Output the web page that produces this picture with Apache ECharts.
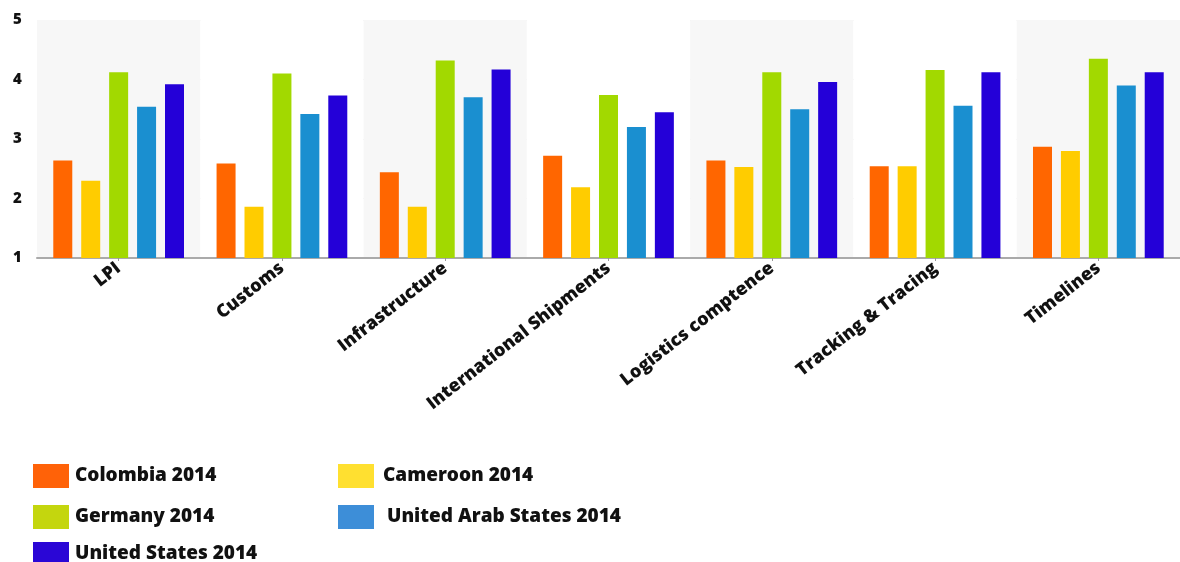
<!DOCTYPE html>
<html><head><meta charset="utf-8">
<script src="https://cdn.jsdelivr.net/npm/echarts@6/dist/echarts.min.js"></script>
<style>html,body{margin:0;padding:0;background:#fff}#c{width:1180px;height:562px}</style>
</head><body><div id="c"></div>
<script>
const categories = ['LPI','Customs','Infrastructure','International Shipments','Logistics comptence','Tracking & Tracing','Timelines'];
const seriesNames = ['Colombia 2014','Cameroon 2014','Germany 2014','United Arab States 2014','United States 2014'];
const colombia = [2.64, 2.59, 2.44, 2.72, 2.64, 2.54, 2.87];
const cameroon = [2.30, 1.86, 1.86, 2.19, 2.53, 2.54, 2.80];
const germany  = [4.12, 4.10, 4.32, 3.74, 4.12, 4.16, 4.35];
const uae      = [3.54, 3.42, 3.70, 3.20, 3.50, 3.56, 3.90];
const us       = [3.92, 3.73, 4.17, 3.45, 3.96, 4.12, 4.12];
const yTicks = [1, 2, 3, 4, 5];

const barColors = ['#ff6600','#ffcc00','#a2d900','#1a8fd0','#2400d8'];
const legendColors = ['#ff6208','#ffe030','#c4d60e','#3d8ed8','#2a06d6'];
const values = [colombia, cameroon, germany, uae, us];

const chart = echarts.init(document.getElementById('c'));
const font = '"Open Sans", "DejaVu Sans", sans-serif';
const legendPos = [[33, 464], [338, 464], [33, 505], [338, 505], [33, 542]];
const legendTextPad = [[0,0,0,1],[0,0,0,4],[0,0,0,1],[0,0,0,8],[0,0,0,1]];
chart.setOption({
  animation: false,
  grid: {left: 37, width: 1157, top: 20, bottom: 304},
  xAxis: {
    type: 'category', data: categories,
    axisLine: {lineStyle: {color: '#aaa', width: 2}},
    axisTick: {show: true, alignWithLabel: true, length: 3, lineStyle: {color: '#999'}},
    axisLabel: {rotate: 38, color: '#111', fontWeight: 800, fontSize: 18, fontFamily: font, margin: 8, interval: 0},
    splitArea: {show: true, areaStyle: {color: ['#f7f7f7', '#ffffff']}}
  },
  yAxis: {
    type: 'value', min: yTicks[0], max: yTicks[yTicks.length-1], interval: 1,
    axisLine: {show: false}, axisTick: {show: false},
    axisLabel: {color: '#111', fontWeight: 800, fontSize: 15, fontFamily: font, margin: 24, align: 'left',
      padding: [4,0,0,0], formatter: v => yTicks.includes(v) ? String(v) : ''},
    splitLine: {lineStyle: {color: '#e8e8e8'}}
  },
  legend: seriesNames.map((n, i) => ({
    left: legendPos[i][0], top: legendPos[i][1], padding: 0,
    itemWidth: 36, itemHeight: 24, icon: 'rect',
    textStyle: {color: '#111', fontWeight: 800, fontSize: 19, fontFamily: font, padding: legendTextPad[i]},
    data: [{name: n, itemStyle: {color: legendColors[i]}}]
  })),
  series: seriesNames.map((n, i) => ({
    name: n, type: 'bar', data: values[i], barWidth: 19, barGap: '47%',
    itemStyle: {color: barColors[i]}
  }))
});
</script></body></html>
